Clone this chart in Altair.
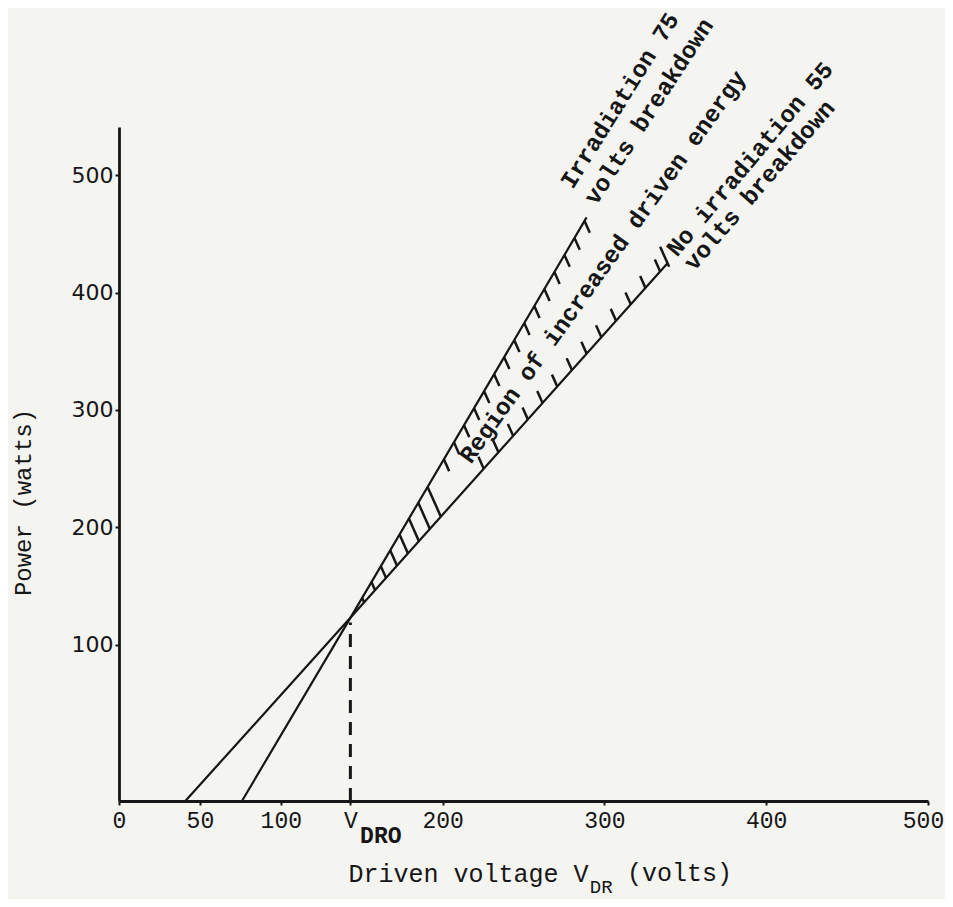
import altair as alt
import pandas as pd
import numpy as np

# ---------------- values ----------------
x_ticks = [0, 50, 100, 143, 200, 300, 400, 500]
x_tick_labels = ["0", "50", "100", "V", "200", "300", "400", "500"]
y_ticks = [100, 200, 300, 400, 500]

v_dro = 143          # crossover voltage V_DRO
p_cross = 123        # power at crossover
axis_base = -33      # power level where the drawn voltage axis sits

irr_v = [76, 143, 289]       # Irradiation, 75 V breakdown
irr_p = [-33, 123, 464]
noirr_v = [41, 143, 339]     # No irradiation, 55 V breakdown
noirr_p = [-33, 123, 425]

# ---------------- layout ----------------
X_MIN, X_MAX = 0, 500
Y_MIN, Y_MAX = -33, 541
W, H = 809, 674
INK = "#161616"
BG = "#f4f4f1"
MONO = "Liberation Mono"

lines = pd.DataFrame(
    [{"series": "irr", "i": i, "v": v, "p": p} for i, (v, p) in enumerate(zip(irr_v, irr_p))]
    + [{"series": "noirr", "i": i, "v": v, "p": p} for i, (v, p) in enumerate(zip(noirr_v, noirr_p))]
)

# hatch strokes derived from the two lines
sx = W / (X_MAX - X_MIN)
sy = H / (Y_MAX - Y_MIN)
ang = np.deg2rad(66)
dv = np.cos(ang) / sx
dp = -np.sin(ang) / sy
sA = (irr_p[2] - irr_p[1]) / (irr_v[2] - irr_v[1])
sB = (noirr_p[2] - noirr_p[1]) / (noirr_v[2] - noirr_v[1])


def on_a(p):
    return v_dro + (p - p_cross) / sA


def on_b(p):
    return v_dro + (p - p_cross) / sB


segs = []
for pa in np.arange(140, 246, 13.5):
    va = on_a(pa)
    t = (pa - p_cross - sB * (va - v_dro)) / (sB * dv - dp)
    segs.append((va, pa, va + dv * t, pa + dp * t))
for pa in np.arange(258, 464, 14.5):
    va = on_a(pa)
    L = 13
    segs.append((va, pa, va + dv * L, pa + dp * L))
for pb in np.arange(250, 420, 14):
    vb = on_b(pb)
    L = 13
    segs.append((vb, pb, vb - dv * L, pb - dp * L))
vb = on_b(noirr_p[2])
segs.append((vb + dv * 4, noirr_p[2] + dp * 4, vb - dv * 18, noirr_p[2] - dp * 18))
hatch = pd.DataFrame(segs, columns=["v", "p", "v2", "p2"])

annot = pd.DataFrame([
    {"t": "Irradiation 75", "v": 280.5, "p": 487.4, "a": 302},
    {"t": "volts breakdown", "v": 295.0, "p": 473.7, "a": 303},
    {"t": "Region of increased driven energy", "v": 217.5, "p": 253.4, "a": 305.5},
    {"t": "No irradiation 55", "v": 344.8, "p": 429.7, "a": 310},
    {"t": "volts breakdown", "v": 355.5, "p": 417.8, "a": 311},
])

sub_bold_df = pd.DataFrame([{"t": "DRO", "v": 149, "p": -68.6}])
sub_norm_df = pd.DataFrame([
    {"t": "DR", "v": 291, "p": -111.5, "s": 19},
    {"t": "(volts)", "v": 314, "p": -101.1, "s": 25},
])

xs = alt.Scale(domain=[X_MIN, X_MAX], nice=False, zero=False)
ys = alt.Scale(domain=[Y_MIN, Y_MAX], nice=False, zero=False)

label_expr = " : ".join(
    f"datum.value == {v} ? '{l}'" for v, l in zip(x_ticks, x_tick_labels)
) + " : ''"

x_axis = alt.Axis(
    values=x_ticks, labelExpr=label_expr, grid=False,
    labelFont=MONO, labelFontSize=23, labelColor=INK, labelPadding=4,
    labelOverlap=False, labelFlush=False,
    labelOffset={"condition": {"test": "datum.value == 500", "value": -5}, "value": 0},
    tickSize=4, tickWidth=2, tickColor=INK,
    domainColor=INK, domainWidth=2.8,
    title="Driven voltage V", titleFont=MONO, titleFontSize=25,
    titleFontWeight="normal", titleColor=INK, titleX=229, titleY=80,
    titleAlign="left", titleBaseline="alphabetic",
)
y_axis = alt.Axis(
    values=y_ticks, grid=False, format="d",
    labelFont="DejaVu Sans", labelFontSize=22, labelColor=INK, labelPadding=2,
    tickSize=4, tickWidth=2, tickColor=INK,
    domainColor=INK, domainWidth=2.8,
    title="Power (watts)", titleFont=MONO, titleFontSize=24,
    titleFontWeight="normal", titleColor=INK, titleAngle=270,
    titleX=-96, titleY=375, titleAlign="center", titleBaseline="middle",
)

base_lines = alt.Chart(lines).mark_line(color=INK, strokeWidth=2.2).encode(
    x=alt.X("v:Q", scale=xs, axis=x_axis),
    y=alt.Y("p:Q", scale=ys, axis=y_axis),
    detail="series:N",
    order="i:O",
)

dro = pd.DataFrame({"v": [v_dro], "p": [axis_base], "p2": [p_cross - 4]})
dashed = alt.Chart(dro).mark_rule(color=INK, strokeWidth=3, strokeDash=[13, 9]).encode(
    x=alt.X("v:Q", scale=xs), y=alt.Y("p:Q", scale=ys), y2="p2:Q"
)

hatch_layer = alt.Chart(hatch).mark_rule(color=INK, strokeWidth=2.5).encode(
    x=alt.X("v:Q", scale=xs), y=alt.Y("p:Q", scale=ys), x2="v2:Q", y2="p2:Q"
)

text_layer = alt.Chart(annot).mark_text(
    font=MONO, fontSize=24, fontWeight="bold", color=INK,
    align="left", baseline="alphabetic",
).encode(
    x=alt.X("v:Q", scale=xs), y=alt.Y("p:Q", scale=ys), text="t:N",
    angle=alt.Angle("a:Q", scale=None),
)

sub_bold = alt.Chart(sub_bold_df).mark_text(
    font=MONO, fontSize=23, fontWeight="bold", color=INK,
    align="left", baseline="alphabetic",
).encode(x=alt.X("v:Q", scale=xs), y=alt.Y("p:Q", scale=ys), text="t:N")

sub_norm = alt.Chart(sub_norm_df).mark_text(
    font=MONO, color=INK, align="left", baseline="alphabetic",
).encode(
    x=alt.X("v:Q", scale=xs), y=alt.Y("p:Q", scale=ys), text="t:N",
    size=alt.Size("s:Q", scale=None, legend=None),
)

chart = (
    alt.layer(base_lines, dashed, hatch_layer, text_layer, sub_bold, sub_norm)
    .properties(
        width=W, height=H,
        padding={"left": 111, "top": 119, "right": 17, "bottom": 98},
        autosize=alt.AutoSizeParams(type="none"),
        background=BG,
    )
    .configure_view(stroke=None)
)

chart.save("out.html", embed_options={"renderer": "svg", "actions": False})
